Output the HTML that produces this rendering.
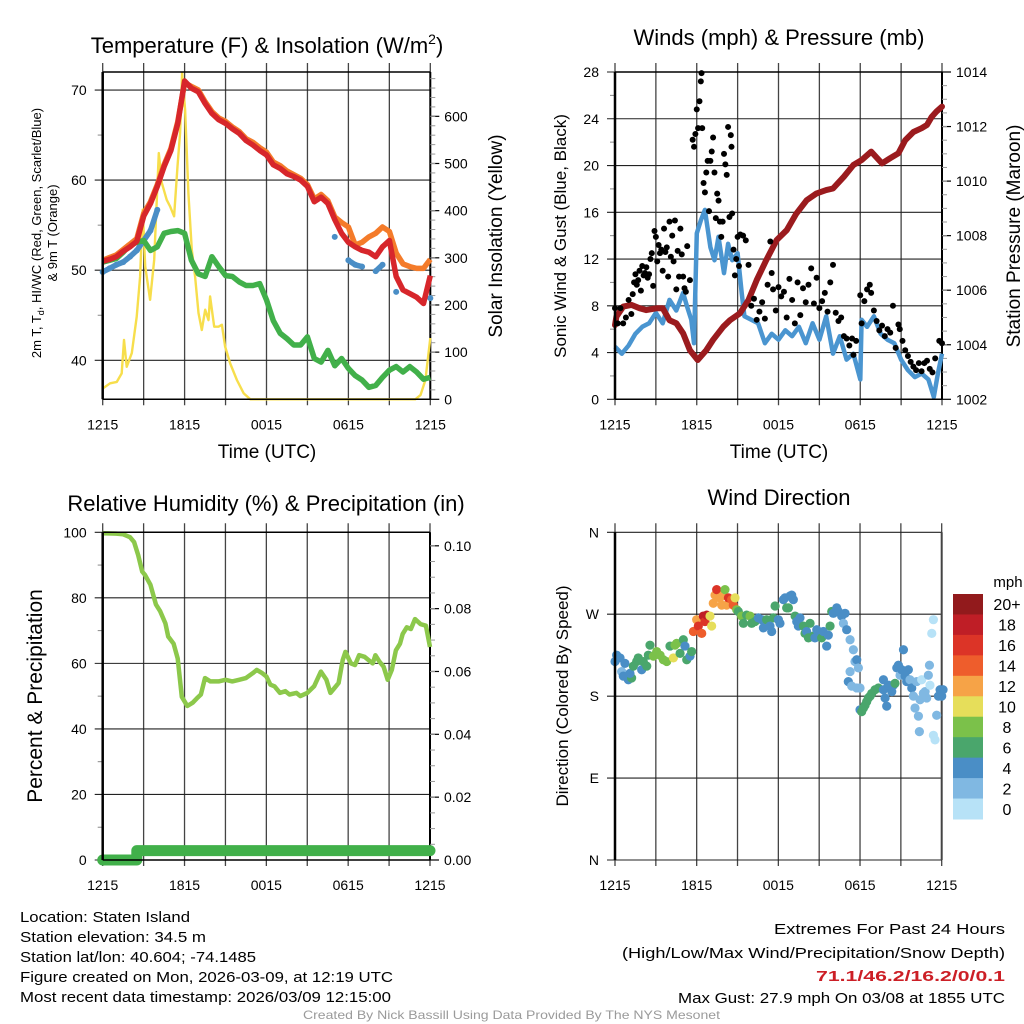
<!DOCTYPE html>
<html><head><meta charset="utf-8">
<style>
html,body{margin:0;padding:0;background:#fff;}
svg{display:block;font-family:"Liberation Sans",sans-serif;}
</style></head>
<body>
<svg id="fig" width="1024" height="1024" viewBox="0 0 1024 1024" xmlns="http://www.w3.org/2000/svg">
<rect width="1024" height="1024" fill="#fff"/>
<g id="g1"></g>
<g id="g2"></g>
<g id="g3"></g>
<g id="g4"></g>

<text x="267" y="53" font-size="22" text-anchor="middle">Temperature (F) &amp; Insolation (W/m<tspan font-size="14" dy="-9">2</tspan><tspan dy="9">)</tspan></text>
<text x="779" y="45" font-size="22" text-anchor="middle">Winds (mph) &amp; Pressure (mb)</text>
<text x="266" y="511" font-size="22" text-anchor="middle">Relative Humidity (%) &amp; Precipitation (in)</text>
<text x="779" y="505" font-size="22" text-anchor="middle">Wind Direction</text>

<text transform="translate(41,233) rotate(-90)" font-size="13" text-anchor="middle">2m T, T<tspan font-size="9" dy="3">d</tspan><tspan dy="-3">, HI/WC (Red, Green, Scarlet/Blue)</tspan></text>
<text transform="translate(57,233) rotate(-90)" font-size="13" text-anchor="middle">&amp; 9m T (Orange)</text>
<text transform="translate(502,236) rotate(-90)" font-size="19" text-anchor="middle">Solar Insolation (Yellow)</text>
<text x="267" y="458" font-size="19" text-anchor="middle">Time (UTC)</text>
<text x="779" y="458" font-size="19" text-anchor="middle">Time (UTC)</text>
<text transform="translate(566,236) rotate(-90)" font-size="17" text-anchor="middle">Sonic Wind &amp; Gust (Blue, Black)</text>
<text transform="translate(1020,236) rotate(-90)" font-size="19" text-anchor="middle">Station Pressure (Maroon)</text>
<text transform="translate(42,696) rotate(-90)" font-size="21" text-anchor="middle">Percent &amp; Precipitation</text>
<text transform="translate(568,696) rotate(-90)" font-size="17" text-anchor="middle">Direction (Colored By Speed)</text>

<g font-size="15">
<text x="20" y="922" textLength="170" lengthAdjust="spacingAndGlyphs">Location: Staten Island</text>
<text x="20" y="942" textLength="186" lengthAdjust="spacingAndGlyphs">Station elevation: 34.5 m</text>
<text x="20" y="962" textLength="236" lengthAdjust="spacingAndGlyphs">Station lat/lon: 40.604; -74.1485</text>
<text x="20" y="982" textLength="373" lengthAdjust="spacingAndGlyphs">Figure created on Mon, 2026-03-09, at 12:19 UTC</text>
<text x="20" y="1002" textLength="371" lengthAdjust="spacingAndGlyphs">Most recent data timestamp: 2026/03/09 12:15:00</text>
</g>
<g font-size="15">
<text x="774" y="934" textLength="231" lengthAdjust="spacingAndGlyphs">Extremes For Past 24 Hours</text>
<text x="622" y="958" textLength="383" lengthAdjust="spacingAndGlyphs">(High/Low/Max Wind/Precipitation/Snow Depth)</text>
<text x="816" y="981" textLength="189" lengthAdjust="spacingAndGlyphs" fill="#cc1f26" font-weight="bold">71.1/46.2/16.2/0/0.1</text>
<text x="678" y="1003" textLength="327" lengthAdjust="spacingAndGlyphs">Max Gust: 27.9 mph On 03/08 at 1855 UTC</text>
</g>
<text x="303" y="1019" font-size="12" fill="#9a9a9a" textLength="417" lengthAdjust="spacingAndGlyphs">Created By Nick Bassill Using Data Provided By The NYS Mesonet</text>
</svg>
<script>
// ---------- data ----------
const xTickLabels = ["1215","1815","0015","0615","1215"];
const tHalf = [0,0.5,1,1.5,2,2.5,3,3.5,4,4.5,5,5.5,6,6.5,7,7.5,8,8.5,9,9.5,10,10.5,11,11.5,12,12.5,13,13.5,14,14.5,15,15.5,16,16.5,17,17.5,18,18.5,19,19.5,20,20.5,21,21.5,22,22.5,23,23.5,24];
const temp2m = [51.0,51.2,51.5,52.1,52.6,53.2,56.0,57.4,59.3,61.5,63.3,66.3,71.0,70.2,69.8,68.5,67.4,66.7,66.3,65.7,65.2,64.4,63.9,63.3,62.8,61.7,61.3,60.7,60.4,60.0,59.3,57.6,58.1,57.4,55.6,54.1,53.1,52.6,52.2,52.0,51.5,52.6,53.3,49.3,47.8,47.4,47.0,46.3,49.4];
const temp9m = [51.1,51.4,51.7,52.3,52.9,53.5,56.3,57.6,59.5,61.7,63.5,66.5,70.8,70.4,70.0,68.7,67.6,66.9,66.5,65.9,65.4,64.6,64.2,63.6,63.1,62.0,61.6,61.0,60.6,60.2,59.5,57.9,58.4,57.7,55.9,55.3,54.8,52.8,53.1,53.7,54.1,54.8,54.3,51.9,50.7,50.4,50.2,50.2,51.2];
const heatWindChill = [49.8,50.2,50.6,50.9,51.5,52.2,53.3,54.4,56.7,null,null,null,null,null,null,null,null,null,null,null,null,null,null,null,null,null,null,null,null,null,null,null,null,null,53.7,null,51.1,50.6,50.4,null,49.9,50.6,null,47.6,null,null,null,null,46.9];
const dewpoint = [50.9,51.1,51.3,52.0,52.8,53.1,53.3,52.2,52.6,54.1,54.3,54.4,54.1,51.1,49.6,49.3,51.5,50.4,49.4,49.3,48.7,48.3,48.3,48.5,46.7,44.4,43.0,42.4,41.7,41.7,42.6,40.2,39.8,41.1,39.4,40.2,39.1,38.3,37.8,37.0,37.2,38.1,38.9,39.3,38.7,39.3,38.7,37.9,38.1];
const solarTime = [0,0.54,1.03,1.39,1.56,1.76,2.13,2.49,2.74,2.93,3.11,3.47,3.77,4.11,4.33,4.69,4.94,5.23,5.48,5.67,5.82,6.04,6.28,6.53,6.77,7.02,7.26,7.51,7.75,7.87,8.17,8.48,8.73,8.97,9.34,9.83,10.32,10.81,22.9,23.28,23.64,24];
const solarValue = [23,34,37,55,126,69,98,175,260,402,282,211,296,522,459,423,409,388,494,565,692,614,437,317,260,183,147,190,168,218,154,154,158,112,76,41,13,0,0,9,41,130];

const presTime = [0,0.1,0.6,1.2,1.8,2.3,3.1,3.5,4.0,4.5,5.0,5.5,6.07,6.7,7.2,7.95,8.44,9.17,9.8,10.4,11.1,11.87,12.6,13.3,14.07,14.8,15.5,16.0,16.8,17.5,18.1,18.8,19.6,20.2,20.8,21.3,21.9,22.5,22.9,23.25,23.6,24];
const pressure = [1004.72,1005.03,1005.4,1005.46,1005.34,1005.27,1005.34,1005.34,1004.9,1004.79,1004.42,1003.8,1003.44,1003.8,1004.18,1004.66,1004.9,1005.15,1005.64,1006.37,1007.1,1007.84,1008.2,1008.8,1009.3,1009.55,1009.67,1009.73,1010.16,1010.59,1010.77,1011.08,1010.65,1010.84,1011.02,1011.5,1011.8,1011.94,1012.06,1012.36,1012.55,1012.73];
const windTime = [0,0.5,1,1.5,2,2.5,3,3.5,4,4.5,5,5.3,5.6,5.8,6,6.3,6.6,7,7.3,7.6,8,8.3,8.6,9,9.3,9.5,10,10.5,11,11.5,12,12.5,13,13.5,14,14.5,15,15.5,16,16.5,17,17.5,18,18.1,18.5,19,19.5,20,20.5,21,21.5,22,22.5,23,23.4,23.7,24];
const windSpeed = [4.5,3.9,4.6,5.6,6.2,6.5,7.4,6.5,8.5,7.6,9.1,7.9,6.8,4.8,14.2,15.3,16.2,13,11.9,13.9,10.8,13.3,11.9,12.5,9.1,7.1,6.8,6.5,4.8,5.6,5.1,5.9,5.4,6.2,4.8,6.5,5.1,7.1,3.9,5.4,3.4,3.9,1.7,6.8,6.2,7.1,5.6,5.1,4.8,3.4,2.5,1.9,2.2,1.7,0.2,2.2,3.9];
const gustTime = [0.0,0.2,0.4,0.6,0.8,1.0,1.2,1.3,1.4,1.5,1.6,1.7,1.8,1.9,2.0,2.1,2.2,2.3,2.4,2.5,2.6,2.7,2.8,2.9,3.0,3.1,3.2,3.3,3.4,3.5,3.6,3.7,3.8,3.9,4.0,4.1,4.2,4.3,4.4,4.5,4.6,4.7,4.8,4.9,5.0,5.1,5.2,5.3,5.5,5.7,5.8,5.9,6.0,6.1,6.2,6.3,6.35,6.4,6.5,6.6,6.7,6.8,6.9,7.0,7.1,7.2,7.3,7.4,7.5,7.6,7.7,7.8,7.9,8.0,8.1,8.2,8.3,8.4,8.5,8.55,8.6,8.7,8.8,8.9,9.0,9.1,9.2,9.4,9.6,9.8,10.0,10.2,10.4,10.6,10.8,11.0,11.2,11.4,11.5,11.6,11.8,12.0,12.2,12.4,12.6,12.8,13.0,13.2,13.4,13.6,13.8,14.0,14.2,14.4,14.6,14.8,15.0,15.2,15.4,15.6,15.8,16.0,16.2,16.4,16.6,16.8,17.0,17.2,17.4,17.5,17.7,18.0,18.1,18.3,18.5,18.7,18.8,19.0,19.2,19.4,19.6,19.8,20.0,20.2,20.4,20.6,20.8,20.9,21.1,21.3,21.5,21.7,21.9,22.1,22.3,22.5,22.7,22.9,23.1,23.3,23.5,23.8,24.0];
const gustSpeed = [7.8,6.5,7.8,6.5,7.0,8.5,7.3,9.0,10.0,10.7,9.8,10.2,11.0,9.3,11.4,10.6,10.8,11.3,10.4,10.7,12.0,12.5,9.7,14.4,13.9,11.8,13.2,12.5,12.8,11.0,14.6,12.6,13.0,10.5,15.2,12.2,14.0,11.8,15.3,9.4,12.7,10.5,14.6,12.4,10.5,9.5,9.2,13.1,10.2,22.2,21.6,22.7,24.8,23.2,25.5,27.2,27.9,23.2,18.5,17.7,19.4,20.4,16.1,20.4,21.2,22.4,19.4,15.5,17.6,17.0,15.2,13.9,15.2,21.0,20.1,19.2,23.3,15.6,22.6,21.6,15.9,12.8,10.6,12.0,13.9,11.4,14.1,14.0,13.6,11.5,8.0,8.6,6.8,7.5,8.3,6.9,9.8,13.5,10.8,9.4,7.6,9.6,8.8,9.2,7.0,10.3,8.5,6.5,10.0,7.2,9.5,8.3,9.8,11.2,8.2,10.4,7.8,8.4,9.1,7.5,10.0,11.5,7.4,6.7,7.0,5.4,5.2,4.6,5.2,3.8,5.0,8.9,6.5,8.4,9.4,9.8,9.1,7.6,6.7,5.9,6.3,5.4,6.0,5.7,8.0,4.4,6.4,6.0,5.0,4.2,3.7,3.2,2.8,2.5,3.1,2.4,3.1,3.3,2.6,2.3,3.5,5.0,4.8];

const rhTime = [0,1,1.5,2,2.3,2.6,2.9,3.1,3.5,3.9,4.2,4.6,4.8,5.2,5.5,5.8,6.2,6.6,6.9,7.2,7.5,7.9,8.5,9,9.5,10,10.5,11,11.3,11.7,12,12.3,12.6,13,13.4,13.7,14.2,14.5,15,15.5,16,16.4,16.7,17,17.3,17.6,17.8,18.2,18.5,18.8,19.2,19.5,19.8,20,20.3,20.6,20.9,21.2,21.5,21.8,22,22.3,22.6,22.9,23.3,23.7,24];
const relHumidity = [99.7,99.6,99.4,98.5,97,93,88,87,84,78,76,72.2,68.2,66,61.5,49.8,47,48,49.3,50.5,55.5,54.5,54.5,55,54.5,55,55.5,57,58,57,56,53.5,53,51,51.5,50.5,51,50,51,53,57.5,55,51,52.5,54,61,63.5,60,59.5,62.5,62,61,60,62.5,60.5,59,55,58,64,66,69,71,70.5,73.5,72,71.5,65];
const precipTime = [0,2.5,2.5,24];
const precipAmount = [0,0,0.003,0.003];

const dirPts = [[0,218,4],[0.12,225,4],[0.37,222,4],[0.49,207,2],[0.61,202,4],[0.73,216,4],[0.98,198,4],[1.22,200,6],[1.10,205,4],[1.35,213,6],[1.59,218,6],[1.71,222,6],[1.96,209,4],[2.08,218,6],[2.33,213,6],[2.45,225,6],[2.57,236,6],[2.82,224,8],[3.06,229,8],[3.31,225,8],[3.55,220,8],[3.80,218,8],[4.04,235,6],[4.29,222,10],[4.41,236,8],[4.53,238,8],[4.78,227,6],[5.02,242,6],[5.14,235,4],[5.27,220,6],[5.51,224,4],[5.63,229,6],[5.76,251,14],[6.00,264,12],[6.12,257,16],[6.37,249,14],[6.49,268,18],[6.61,262,16],[6.74,269,18],[6.98,268,10],[7.10,257,10],[7.22,282,12],[7.35,291,12],[7.47,297,16],[7.71,288,12],[7.84,280,12],[7.96,291,12],[8.08,297,8],[8.20,280,12],[8.33,288,16],[8.57,286,14],[8.69,280,14],[8.82,288,10],[8.94,275,8],[9.06,273,6],[9.31,268,8],[9.43,260,6],[9.67,269,6],[9.92,268,8],[10.04,260,6],[10.29,262,6],[10.53,266,4],[10.78,264,4],[10.90,255,4],[11.14,264,6],[11.39,257,4],[11.51,251,4],[11.63,266,6],[11.76,279,6],[12.00,264,4],[12.12,260,4],[12.37,286,4],[12.49,288,4],[12.61,277,6],[12.74,277,6],[12.86,290,4],[12.98,291,4],[13.10,286,4],[13.23,268,6],[13.35,262,4],[13.47,257,4],[13.59,266,4],[13.84,257,6],[13.96,249,6],[14.08,251,4],[14.21,244,6],[14.33,260,6],[14.57,246,6],[14.69,244,4],[14.82,253,4],[14.94,246,4],[15.18,244,6],[15.31,251,4],[15.55,235,4],[15.67,247,4],[15.80,257,6],[15.92,273,6],[16.04,271,4],[16.29,277,4],[16.41,273,4],[16.65,268,4],[16.78,260,2],[16.90,271,4],[17.02,253,4],[17.27,242,2],[17.51,231,2],[17.63,218,2],[17.27,207,2],[17.76,220,4],[17.88,211,2],[17.14,196,4],[17.39,191,2],[17.76,189,2],[18.00,189,2],[18.00,165,4],[18.12,163,6],[18.25,167,6],[18.37,170,6],[18.49,174,6],[18.61,178,6],[18.74,180,6],[18.86,183,6],[19.10,187,6],[19.35,189,6],[19.72,187,4],[19.84,178,4],[19.96,169,4],[19.72,198,4],[20.08,192,4],[20.21,191,4],[20.33,185,4],[20.45,192,4],[20.57,194,6],[20.70,211,4],[20.82,214,4],[20.94,203,2],[21.19,231,4],[21.06,209,4],[21.31,202,4],[21.43,196,4],[21.55,209,4],[21.67,198,2],[21.80,189,4],[21.92,180,2],[22.04,167,2],[22.16,196,2],[22.29,158,2],[22.36,141,2],[22.41,176,2],[22.53,198,0],[22.65,183,2],[22.78,185,2],[22.90,178,2],[23.02,203,2],[23.10,214,2],[23.14,192,0],[23.27,249,0],[23.39,264,0],[23.39,137,0],[23.51,132,0],[23.63,159,2],[23.76,180,4],[23.88,187,4],[24.0,180,4],[24.1,187,4]];
const speedBins = ["0","2","4","6","8","10","12","14","16","18","20+"];
const binColors = ["#b7e2f7","#80b8e2","#4a8ec6","#4aa66c","#7bc14a","#e6de5a","#f6a347","#ee5d2c","#dc3427","#bf1e26","#921a1c"];
const dirLabels = ["N","E","S","W","N"];

// ---------- helpers ----------
const NS = "http://www.w3.org/2000/svg";
function mk(parent, tag, attrs){ const e=document.createElementNS(NS,tag); for(const k in attrs) e.setAttribute(k,attrs[k]); parent.appendChild(e); return e; }
function scale(d0,d1,r0,r1){ return v => r0+(v-d0)*(r1-r0)/(d1-d0); }
function pathD(xs,ys,xf,yf){ let d="",pen=false; for(let i=0;i<xs.length;i++){ if(ys[i]==null){pen=false;continue;} d+=(pen?"L":"M")+xf(xs[i]).toFixed(1)+","+yf(ys[i]).toFixed(1); pen=true;} return d; }

function frame(g, P){
  const xf = scale(0,24,P.x0,P.x1);
  for(let i=0;i<=8;i++){
    const x = xf(i*3);
    const l = mk(g,"line",{x1:x,x2:x,y1:P.y0-9,y2:P.y1+6,stroke:"#444","stroke-width":1.3});
    
    
  }
  xTickLabels.forEach((s,i)=>{
    const t = mk(g,"text",{x:xf(i*6),y:P.y1+30,"font-size":14,"text-anchor":"middle"});
    t.textContent = s;
    
    
  });
  return xf;
}
function hgrid(g,P,yf,vals,labels,minors){
  vals.forEach((v,i)=>{
    const y=yf(v);
    const l = mk(g,"line",{x1:P.x0-8,x2:P.x1,y1:y,y2:y,stroke:"#222","stroke-width":1.1});
    
    
    const t = mk(g,"text",{x:P.x0-16,y:y+5,"font-size":14,"text-anchor":"end"});
    t.textContent = labels[i];
    
    
  });
  (minors||[]).forEach(v=>{ const y=yf(v); mk(g,"line",{x1:P.x0-5,x2:P.x0,y1:y,y2:y,stroke:"#888","stroke-width":1}); });
}
function rightAxis(g,P,yf,vals,labels,minors){
  mk(g,"line",{x1:P.x1,x2:P.x1,y1:P.y0,y2:P.y1,stroke:"#000","stroke-width":2});
  vals.forEach((v,i)=>{
    const y=yf(v);
    mk(g,"line",{x1:P.x1,x2:P.x1+9,y1:y,y2:y,stroke:"#000","stroke-width":1.2});
    const t = mk(g,"text",{x:P.x1+14,y:y+5,"font-size":14});
    t.textContent = labels[i];
    
    
  });
  (minors||[]).forEach(v=>{ const y=yf(v); mk(g,"line",{x1:P.x1,x2:P.x1+5,y1:y,y2:y,stroke:"#999","stroke-width":1}); });
}
function box(g,P){
  mk(g,"line",{x1:P.x0,x2:P.x1,y1:P.y0,y2:P.y0,stroke:"#000","stroke-width":1.5});
  mk(g,"line",{x1:P.x0,x2:P.x1,y1:P.y1,y2:P.y1,stroke:"#000","stroke-width":1.5});
  mk(g,"line",{x1:P.x0,x2:P.x0,y1:P.y0,y2:P.y1,stroke:"#000","stroke-width":2.5});
}
function rng(a,b,s){ const r=[]; for(let v=a;v<=b+1e-9;v+=s) r.push(+v.toFixed(4)); return r; }

// ---------- Panel 1 ----------
(function(){
  const g=document.getElementById("g1");
  const P={x0:102.7,x1:430.3,y0:72,y1:399.3};
  const xf=frame(g,P);
  const yL=scale(35.67,72,P.y1,P.y0), yR=scale(0,694,P.y1,P.y0);
  hgrid(g,P,yL,[40,50,60,70],["40","50","60","70"],[45,55,65]);
  rightAxis(g,P,yR,[0,100,200,300,400,500,600],["0","100","200","300","400","500","600"],rng(20,680,20));
  const y = mk(g,"path",{d:pathD(solarTime,solarValue,xf,yR),fill:"none",stroke:"#f7de4c","stroke-width":2.4,"stroke-linejoin":"round"});
   
  const b = mk(g,"path",{d:pathD(tHalf,heatWindChill,xf,yL),fill:"none",stroke:"#4a8ec6","stroke-width":5.5,"stroke-linecap":"round"});
   
  tHalf.forEach((t,i)=>{ if(heatWindChill[i]!=null){ const c=mk(g,"circle",{cx:xf(t),cy:yL(heatWindChill[i]),r:3,fill:"#4a8ec6"});   }});
  const gr = mk(g,"path",{d:pathD(tHalf,dewpoint,xf,yL),fill:"none",stroke:"#41b04a","stroke-width":5.5,"stroke-linejoin":"round"});
   
  const o = mk(g,"path",{d:pathD(tHalf,temp9m,xf,yL),fill:"none",stroke:"#f47b2a","stroke-width":5.5,"stroke-linejoin":"round"});
   
  const r = mk(g,"path",{d:pathD(tHalf,temp2m,xf,yL),fill:"none",stroke:"#d7262b","stroke-width":5.5,"stroke-linejoin":"round"});
   
  box(g,P);
})();

// ---------- Panel 2 ----------
(function(){
  const g=document.getElementById("g2");
  const P={x0:615,x1:942,y0:72,y1:399.3};
  const xf=frame(g,P);
  const yL=scale(0,28,P.y1,P.y0), yR=scale(1002,1014,P.y1,P.y0);
  hgrid(g,P,yL,[0,4,8,12,16,20,24,28],["0","4","8","12","16","20","24","28"],[2,6,10,14,18,22,26]);
  rightAxis(g,P,yR,[1002,1004,1006,1008,1010,1012,1014],["1002","1004","1006","1008","1010","1012","1014"],rng(1002.5,1013.5,0.5));
  const w = mk(g,"path",{d:pathD(windTime,windSpeed,xf,yL),fill:"none",stroke:"#4a95d0","stroke-width":4.5,"stroke-linejoin":"round"});
   
  const p = mk(g,"path",{d:pathD(presTime,pressure,xf,yR),fill:"none",stroke:"#9b1b1e","stroke-width":6,"stroke-linejoin":"round","stroke-linecap":"round"});
   
  gustTime.forEach((t,i)=>{
    const c=mk(g,"circle",{cx:xf(t),cy:yL(gustSpeed[i]),r:3,fill:"#000"});
    
    
  });
  box(g,P);
})();

// ---------- Panel 3 ----------
(function(){
  const g=document.getElementById("g3");
  const P={x0:102.7,x1:430,y0:532.3,y1:860};
  const xf=frame(g,P);
  const yL=scale(0,100,P.y1,P.y0), yR=scale(0,0.1043,P.y1,P.y0);
  hgrid(g,P,yL,[0,20,40,60,80,100],["0","20","40","60","80","100"],[10,30,50,70,90]);
  rightAxis(g,P,yR,[0,0.02,0.04,0.06,0.08,0.10],["0.00","0.02","0.04","0.06","0.08","0.10"],rng(0.005,0.1,0.005));
  const h = mk(g,"path",{d:pathD(rhTime,relHumidity,xf,yL),fill:"none",stroke:"#8cc84b","stroke-width":4.5,"stroke-linejoin":"round"});
   
  const pr = mk(g,"path",{d:pathD(precipTime,precipAmount,xf,yR),fill:"none",stroke:"#41b04a","stroke-width":11,"stroke-linecap":"round","stroke-linejoin":"round"});
   
  box(g,P);
})();

// ---------- Panel 4 ----------
(function(){
  const g=document.getElementById("g4");
  const P={x0:615,x1:941.7,y0:532.3,y1:860};
  const xf=frame(g,P);
  const yf=scale(0,360,P.y1,P.y0);
  hgrid(g,P,yf,[0,90,180,270,360],dirLabels,[]);
  mk(g,"line",{x1:P.x1,x2:P.x1,y1:P.y0,y2:P.y1,stroke:"#444","stroke-width":2});
  function colorFor(s){ let i=Math.min(10,Math.max(0,Math.floor((s+1)/2))); return binColors[i]; }
  dirPts.forEach(p=>{
    const c=mk(g,"circle",{cx:xf(p[0]),cy:yf(p[1]),r:4.6,fill:colorFor(p[2])});
    
    
  });
  mk(g,"line",{x1:P.x0,x2:P.x0,y1:P.y0,y2:P.y1,stroke:"#000","stroke-width":2.5});
  const cb = mk(g,"g",{});
  
  
  const top=594, bot=819, h=(bot-top)/speedBins.length;
  for(let i=0;i<speedBins.length;i++){
    const k=speedBins.length-1-i;
    const r=mk(cb,"rect",{x:953,y:top+i*h,width:30,height:h+0.5,fill:binColors[k]});
    
    
    const t=mk(cb,"text",{x:1007,y:top+i*h+h/2+6,"font-size":16,"text-anchor":"middle"});
    t.textContent=speedBins[k];
    
    
  }
  const u=mk(cb,"text",{x:1008,y:587,"font-size":15,"text-anchor":"middle"});
  u.textContent="mph";
  
  
})();
</script>
</body></html>
